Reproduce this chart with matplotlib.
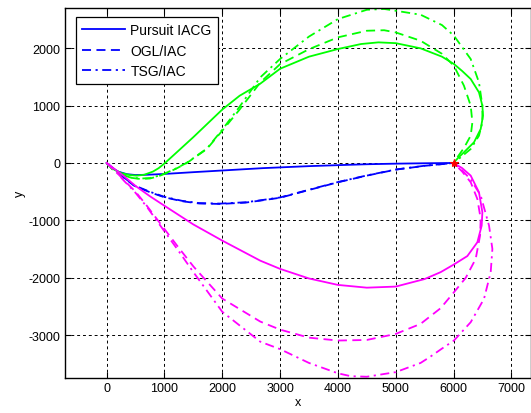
import matplotlib.pyplot as plt
import numpy as np

plt.rcParams['font.family'] = ['Liberation Sans', 'DejaVu Sans']
plt.rcParams['axes.unicode_minus'] = False

# pursuit paths, start at origin and end at the target (6000, 0)
blue_solid_x = [0, 100, 200, 350, 500, 700, 1000, 1500, 1964, 2700, 3500, 4000, 4500, 5000, 5500, 6000]
blue_solid_y = [0, -90, -150, -195, -210, -205, -191, -160, -133, -90, -55, -38, -22, -12, -5, 0]

blue_dash_x = [0, 150, 300, 473, 750, 1000, 1300, 1600, 1964, 2400, 2657, 3000, 3500, 4000, 4500, 5000, 5500, 6000]
blue_dash_y = [0, -130, -260, -394, -510, -597, -665, -705, -713, -690, -655, -605, -470, -336, -220, -116, -50, 0]

blue_dd_x = [0, 150, 300, 473, 750, 1000, 1300, 1600, 1964, 2400, 2657, 3000, 3500, 4000, 4500, 5000, 5500, 6000]
blue_dd_y = [0, -126, -254, -388, -502, -590, -658, -698, -707, -684, -650, -600, -466, -332, -217, -114, -48, 0]

green_solid_x = [0, 100, 250, 400, 520, 650, 800, 900, 1010, 1213, 1500, 2000, 2300, 2657, 3000, 3500, 4000,
                 4400, 4700, 5000, 5430, 5800, 6007, 6150, 6297, 6440, 6499, 6510, 6470, 6354, 6180, 6080, 6000]
green_solid_y = [0, -100, -175, -210, -220, -205, -150, -90, 0, 186, 450, 930, 1170, 1380, 1640, 1850, 1983,
                 2070, 2099, 2085, 1995, 1850, 1722, 1600, 1461, 1229, 997, 823, 591, 360, 186, 90, 0]

green_dash_x = [0, 100, 250, 400, 577, 750, 900, 1000, 1200, 1387, 1733, 2000, 2300, 2657, 3000, 3500, 4000,
                4500, 4800, 5000, 5430, 5800, 6007, 6180, 6297, 6326, 6297, 6180, 6066, 6000]
green_dash_y = [0, -110, -200, -255, -278, -270, -230, -191, -100, 0, 243, 562, 930, 1400, 1720, 1980, 2186,
                2301, 2310, 2272, 2127, 1900, 1690, 1345, 997, 708, 475, 261, 99, 0]

green_dd_x = [0, 100, 250, 400, 577, 750, 900, 1000, 1200, 1380, 1733, 2000, 2300, 2657, 3000, 3500, 4000,
              4500, 4800, 5000, 5430, 5800, 6007, 6297, 6440, 6499, 6499, 6440, 6297, 6124, 6000]
green_dd_y = [0, -108, -195, -250, -272, -262, -222, -185, -95, 0, 250, 580, 980, 1490, 1810, 2200, 2504,
              2666, 2680, 2649, 2580, 2400, 2214, 1809, 1403, 997, 708, 475, 243, 99, 0]

mag_solid_x = [0, 150, 300, 500, 750, 1040, 1500, 2000, 2657, 3000, 3500, 4000, 4500, 5000, 5500, 5777,
               6000, 6239, 6412, 6487, 6499, 6440, 6297, 6150, 6000]
mag_solid_y = [0, -115, -230, -400, -580, -771, -1070, -1351, -1700, -1843, -2010, -2122, -2170, -2151, -2020,
               -1900, -1770, -1620, -1380, -1090, -858, -510, -220, -90, 0]

mag_dash_x = [0, 150, 300, 500, 693, 1000, 1250, 1500, 2000, 2657, 3000, 3500, 4000, 4500, 5000, 5430,
              5777, 6007, 6210, 6383, 6459, 6470, 6412, 6297, 6150, 6000]
mag_dash_y = [0, -140, -300, -500, -742, -1150, -1480, -1800, -2360, -2760, -2900, -3040, -3090, -3080, -2975,
              -2800, -2527, -2250, -2000, -1670, -1264, -974, -626, -336, -150, 0]

mag_dd_x = [0, 150, 300, 500, 700, 1000, 1250, 1500, 2000, 2657, 3000, 3500, 4000, 4220, 4500, 5000, 5430,
            5600, 5800, 6007, 6297, 6527, 6643, 6672, 6614, 6470, 6300, 6150, 6000]
mag_dd_y = [0, -140, -310, -520, -770, -1190, -1540, -1900, -2590, -3110, -3240, -3480, -3660, -3710, -3720,
            -3640, -3480, -3370, -3230, -3090, -2771, -2365, -1901, -1496, -1090, -568, -290, -130, 0]

target = (6000, 0)

BLUE, GREEN, MAG = '#0000ff', '#00ff00', '#ff00ff'
DASH = (0, (5, 3))
DASHDOT = (0, (5, 2.5, 1.2, 2.5))
LW = 1.3

fig = plt.figure(figsize=(5.31, 4.14), dpi=100)
ax = fig.add_axes([0.123, 0.0855, 0.877, 0.8925])

ax.plot(blue_solid_x, blue_solid_y, color=BLUE, lw=LW, label='Pursuit IACG')
ax.plot(blue_dash_x, blue_dash_y, color=BLUE, lw=LW, ls=DASH, label='OGL/IAC')
ax.plot(blue_dd_x, blue_dd_y, color=BLUE, lw=LW, ls=DASHDOT, label='TSG/IAC')

ax.plot(green_solid_x, green_solid_y, color=GREEN, lw=LW)
ax.plot(green_dash_x, green_dash_y, color=GREEN, lw=LW, ls=DASH)
ax.plot(green_dd_x, green_dd_y, color=GREEN, lw=LW, ls=DASHDOT)

ax.plot(mag_solid_x, mag_solid_y, color=MAG, lw=LW)
ax.plot(mag_dash_x, mag_dash_y, color=MAG, lw=LW, ls=DASH)
ax.plot(mag_dd_x, mag_dd_y, color=MAG, lw=LW, ls=DASHDOT)

ax.plot(*target, marker='*', color='red', ms=6, mew=0.8)

ax.set_xlim(-715, 7340)
ax.set_ylim(-3735, 2695)
ax.set_xticks(np.arange(0, 7001, 1000))
ax.set_yticks(np.arange(-3000, 2001, 1000))
ax.grid(True, color='black', ls=(0, (3, 3)), lw=0.7)
ax.tick_params(direction='in', labelsize=9, length=4, top=True, right=True)
for s in ax.spines.values():
    s.set_linewidth(1.0)

ax.set_xlabel('x', fontsize=9, labelpad=1)
ax.set_ylabel('y', fontsize=9, labelpad=2)

leg = ax.legend(loc='upper left', bbox_to_anchor=(0.023, 0.9757), fontsize=10, fancybox=False,
                edgecolor='black', framealpha=1, handlelength=3.1, borderaxespad=0, labelspacing=0.45,
                handletextpad=0.36, borderpad=0.45)
leg.get_frame().set_linewidth(0.9)

fig.savefig('out.png', dpi=100)
